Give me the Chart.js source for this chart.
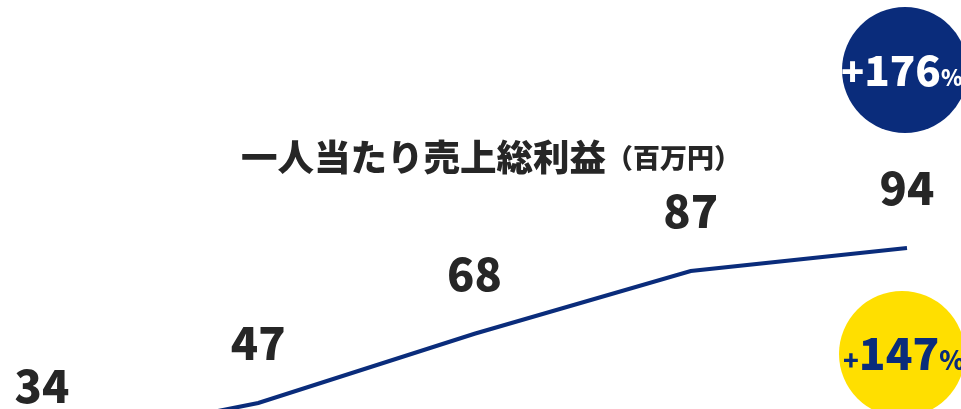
<!DOCTYPE html>
<html>
<head>
<meta charset="utf-8">
<script src="https://cdn.jsdelivr.net/npm/chart.js@4/dist/chart.umd.min.js"></script>
<style>
  html, body { margin: 0; padding: 0; background: #ffffff; }
  #wrap { width: 961px; height: 409px; overflow: hidden; position: relative; }
  canvas { display: block; }
</style>
</head>
<body>
<div id="wrap"><canvas id="c" width="961" height="558"></canvas></div>
<script>
const categories = ['Y1', 'Y2', 'Y3', 'Y4', 'Y5'];
const profitPerHead = [34, 47, 68, 87, 94];
const valueLabels = ['34', '47', '68', '87', '94'];
const titleMain = '一人当たり売上総利益';
const titleUnit = '（百万円）';
const badgeTop = { sign: '+', num: '176', pct: '%' };
const badgeBottom = { sign: '+', num: '147', pct: '%' };

const NAVY = '#0a2c7b';
const YELLOW = '#ffdf00';
const FONT = '"Noto Sans CJK JP", "Noto Sans", sans-serif';

const decor = {
  id: 'decor',
  afterDatasetsDraw(chart) {
    const ctx = chart.ctx;
    const meta = chart.getDatasetMeta(0);
    ctx.save();
    // value labels
    ctx.fillStyle = '#262626';
    ctx.font = '900 45px ' + FONT;
    ctx.textAlign = 'center';
    ctx.textBaseline = 'middle';
    meta.data.forEach((pt, i) => {
      ctx.fillText(valueLabels[i], pt.x, pt.y - 60);
    });
    // title
    ctx.textBaseline = 'alphabetic';
    ctx.textAlign = 'left';
    ctx.font = '900 36.5px ' + FONT;
    const w1 = ctx.measureText(titleMain).width;
    ctx.font = '900 27px ' + FONT;
    const w2 = ctx.measureText(titleUnit).width;
    let x0 = 491 - (w1 + w2) / 2;
    ctx.font = '900 36.5px ' + FONT;
    ctx.fillText(titleMain, x0, 171);
    ctx.font = '900 27px ' + FONT;
    ctx.fillText(titleUnit, x0 + w1, 168);

    function badge(cx, cy, r, bg, fg, b, signSize, numSize, pctSize, startX) {
      ctx.beginPath();
      ctx.arc(cx, cy, r, 0, Math.PI * 2);
      ctx.fillStyle = bg;
      ctx.fill();
      ctx.fillStyle = fg;
      ctx.textBaseline = 'alphabetic';
      ctx.textAlign = 'left';
      ctx.font = '900 ' + signSize + 'px ' + FONT;
      const ws = ctx.measureText(b.sign).width;
      ctx.font = '900 ' + numSize + 'px ' + FONT;
      const wn = ctx.measureText(b.num).width;
      const base = cy + 16;
      ctx.font = '900 ' + signSize + 'px ' + FONT;
      ctx.fillText(b.sign, startX, base);
      ctx.font = '900 ' + numSize + 'px ' + FONT;
      ctx.fillText(b.num, startX + ws, base);
      ctx.font = '900 ' + pctSize + 'px ' + FONT;
      ctx.fillText(b.pct, startX + ws + wn, base);
    }
    badge(905, 70, 63, NAVY, '#ffffff', badgeTop, 38, 42, 22, 841);
    badge(902, 354, 63, YELLOW, NAVY, badgeBottom, 26, 44, 26, 843);
    ctx.restore();
  }
};

new Chart(document.getElementById('c'), {
  type: 'line',
  data: {
    labels: categories,
    datasets: [{
      data: profitPerHead,
      borderColor: NAVY,
      borderWidth: 4,
      pointRadius: 0,
      tension: 0,
      fill: false
    }]
  },
  options: {
    responsive: false,
    animation: false,
    events: [],
    layout: { padding: { left: 42, right: 54, top: 0, bottom: 0 } },
    plugins: { legend: { display: false }, tooltip: { enabled: false } },
    scales: {
      x: { display: false, offset: false },
      y: { display: false, min: 0, max: 169.2 }
    }
  },
  plugins: [decor]
});
</script>
</body>
</html>
